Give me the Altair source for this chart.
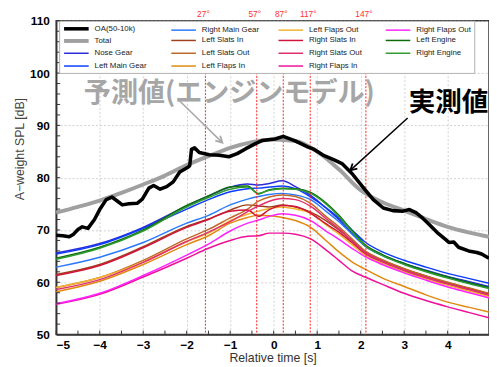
import altair as alt
import pandas as pd

# ---------------- data ----------------
X_GRID = [-5, -4, -3, -2, -1.5, -1, -0.6, -0.35, -0.1, 0.2, 0.5, 0.85, 1.2, 1.5, 1.8, 2.1, 2.5, 3, 3.5, 4, 4.5, 4.95]

nose_gear       = [65.6, 67.4, 70.5, 74.6, 76.5, 78.2, 78.8, 78.6, 78.9, 79.4, 78.3, 76.6, 74.2, 72.0, 69.4, 67.0, 65.2, 63.6, 62.3, 61.1, 60.1, 59.2]
left_main_gear  = [65.4, 67.2, 70.3, 74.0, 75.8, 77.3, 77.9, 78.0, 78.2, 78.4, 77.9, 76.3, 74.3, 72.3, 70.0, 67.7, 65.8, 64.2, 62.9, 61.7, 60.7, 59.8]
right_main_gear = [62.9, 64.8, 67.6, 71.3, 72.8, 74.8, 75.9, 76.4, 76.8, 77.0, 76.7, 75.8, 73.6, 71.6, 69.2, 66.9, 65.1, 63.5, 62.2, 61.0, 59.9, 58.9]
left_engine     = [64.6, 66.7, 70.0, 74.7, 76.5, 78.2, 78.4, 76.9, 77.7, 78.0, 77.9, 77.2, 75.2, 72.8, 69.9, 67.2, 65.3, 63.6, 62.2, 61.0, 59.9, 59.0]
right_engine    = [64.4, 66.5, 69.8, 74.4, 76.2, 77.8, 78.2, 77.0, 77.6, 77.9, 77.8, 77.0, 75.0, 72.6, 69.7, 67.0, 65.1, 63.4, 62.0, 60.8, 59.7, 58.8]
left_slats_in   = [61.5, 63.4, 66.8, 70.7, 72.1, 73.8, 74.8, 74.6, 74.4, 74.8, 74.4, 73.4, 71.8, 70.0, 68.0, 65.9, 64.2, 62.6, 61.2, 59.9, 58.8, 57.8]
right_slats_in  = [61.3, 63.2, 66.6, 70.5, 72.0, 73.6, 73.8, 72.6, 73.9, 74.7, 74.5, 73.2, 71.2, 69.6, 67.6, 65.5, 63.9, 62.3, 60.9, 59.7, 58.6, 57.6]
left_slats_out  = [59.0, 60.9, 64.2, 68.3, 70.1, 72.3, 74.0, 75.5, 76.3, 76.7, 76.4, 75.1, 72.6, 70.6, 68.3, 66.0, 64.3, 62.6, 61.2, 60.0, 58.9, 57.9]
right_slats_out = [58.6, 60.5, 63.8, 67.8, 69.6, 71.6, 73.5, 74.6, 75.5, 76.0, 75.8, 74.5, 72.2, 70.2, 67.9, 65.7, 64.0, 62.3, 60.9, 59.7, 58.6, 57.6]
left_flaps_out  = [59.0, 60.9, 63.9, 67.8, 69.4, 71.8, 73.0, 73.6, 74.1, 74.4, 74.0, 73.2, 71.0, 69.2, 67.2, 65.2, 63.6, 62.0, 60.6, 59.4, 58.3, 57.3]
left_flaps_in   = [58.2, 60.2, 63.4, 67.2, 68.9, 71.3, 72.4, 72.8, 72.7, 72.4, 71.8, 70.5, 68.0, 65.8, 63.9, 62.5, 60.8, 59.2, 57.6, 56.2, 55.2, 54.3]
right_flaps_out = [55.9, 57.9, 61.3, 65.2, 67.3, 69.8, 71.3, 71.9, 72.6, 73.1, 72.8, 71.8, 69.8, 68.2, 66.5, 64.9, 63.4, 61.8, 60.4, 59.1, 58.0, 57.0]
right_flaps_in  = [55.8, 57.7, 61.0, 64.6, 66.5, 68.0, 68.8, 68.9, 69.4, 69.4, 69.2, 68.3, 66.2, 64.2, 62.2, 61.0, 59.6, 57.9, 56.5, 55.3, 54.2, 53.2]

total_x = [-5, -4.5, -4, -3.5, -3, -2.5, -2, -1.5, -1, -0.5, 0, 0.5, 1, 1.5, 2, 2.5, 3, 3.5, 4, 4.5, 4.95]
total_y = [73.3, 74.4, 75.6, 77.1, 78.7, 80.4, 82.4, 84.1, 85.7, 86.8, 87.3, 87.0, 85.0, 81.6, 77.6, 75.3, 73.7, 72.1, 70.6, 69.5, 68.7]

oa_x = [-5.0, -4.85, -4.7, -4.6, -4.5, -4.4, -4.27, -4.12, -4.0, -3.85, -3.72, -3.59, -3.48, -3.33, -3.14, -3.02,
        -2.87, -2.76, -2.61, -2.46, -2.31, -2.16, -1.97, -1.93, -1.89, -1.82, -1.71, -1.48, -1.25, -1.03, -0.84,
        -0.65, -0.42, -0.27, 0.03, 0.22, 0.48, 0.78, 0.93, 1.16, 1.39, 1.57, 1.80, 2.07, 2.29, 2.52, 2.74, 2.97,
        3.12, 3.27, 3.42, 3.57, 3.76, 3.95, 4.03, 4.14, 4.25, 4.48, 4.67, 4.78, 4.95]
oa_y = [69.0, 68.9, 68.7, 69.2, 70.1, 70.6, 70.3, 72.0, 73.9, 75.8, 76.3, 75.5, 74.8, 75.0, 75.1, 75.9,
        78.0, 78.5, 77.8, 78.3, 79.2, 81.1, 82.0, 82.3, 85.4, 85.7, 84.8, 84.4, 84.3, 84.0, 84.6,
        85.5, 86.5, 87.1, 87.4, 87.9, 87.1, 85.9, 85.4, 84.2, 83.4, 82.7, 80.8, 78.0, 75.8, 74.2, 73.7, 73.6,
        73.9, 73.3, 72.3, 71.1, 69.5, 68.2, 67.6, 67.7, 66.7, 66.0, 65.7, 65.4, 64.6]

component_names = ["Nose Gear", "Left Main Gear", "Right Main Gear", "Left Slats In", "Left Slats Out",
                   "Left Flaps In", "Left Flaps Out", "Right Slats In", "Right Slats Out",
                   "Right Flaps In", "Right Flaps Out", "Left Engine", "Right Engine"]
component_values = [nose_gear, left_main_gear, right_main_gear, left_slats_in, left_slats_out,
                    left_flaps_in, left_flaps_out, right_slats_in, right_slats_out,
                    right_flaps_in, right_flaps_out, left_engine, right_engine]

# legend order (column-major, 4 rows)
legend_order = ["OA(50-10k)", "Total", "Nose Gear", "Left Main Gear",
                "Right Main Gear", "Left Slats In", "Left Slats Out", "Left Flaps In",
                "Left Flaps Out", "Right Slats In", "Right Slats Out", "Right Flaps In",
                "Right Flaps Out", "Left Engine", "Right Engine"]
legend_colors = ["#000000", "#a0a0a0", "#2b2bd9", "#0a3cff",
                 "#2a78ff", "#a0401a", "#c0682a", "#e08a10",
                 "#f2b42a", "#d0143c", "#e0306e", "#f0109a",
                 "#ff22ff", "#0b6b0b", "#2f9a2f"]
legend_widths = [3.6, 4.0, 1.5, 1.5,
                 1.5, 1.5, 1.5, 1.5,
                 1.5, 1.5, 1.5, 1.5,
                 1.5, 1.5, 1.5]

angle_x = [-1.57, -0.39, 0.22, 0.84, 2.12]
angle_labels = ["27°", "57°", "87°", "117°", "147°"]

x_tick_pos = [-5, -4.5, -4, -3.5, -3, -2.5, -2, -1.5, -1, -0.5, 0, 0.5, 1, 1.5, 2, 2.5, 3, 3.5, 4, 4.5]
y_tick_pos = [50, 52, 54, 56, 58, 60, 62, 64, 66, 68, 70, 72, 74, 76, 78, 80, 82, 84, 86, 88, 90,
              92, 94, 96, 98, 100, 102, 104, 106, 108, 110]

pred_label = "予測値(エンジンモデル)"
meas_label = "実測値"

# ---------------- tables ----------------
rows = []
for name, vals in zip(component_names, component_values):
    for xv, yv in zip(X_GRID, vals):
        rows.append({"t": xv, "spl": yv, "series": name})
comp_df = pd.DataFrame(rows)
total_df = pd.DataFrame({"t": total_x, "spl": total_y, "series": "Total"})
oa_df = pd.DataFrame({"t": oa_x, "spl": oa_y, "series": "OA(50-10k)"})
angle_df = pd.DataFrame({"t": angle_x, "label": angle_labels})
xt_df = pd.DataFrame({"t": x_tick_pos})
yt_df = pd.DataFrame({"spl": y_tick_pos})

W, H = 440, 319
xs = alt.Scale(domain=[-5, 4.95], nice=False, zero=False)
ys = alt.Scale(domain=[50, 110], nice=False, zero=False)

x_axis = alt.Axis(values=[-5, -4, -3, -2, -1, 0, 1, 2, 3, 4], format="d", grid=True,
                  gridDash=[2, 2], gridColor="#c4c4c4", gridWidth=0.8,
                  ticks=False, tickSize=0, labelPadding=5,
                  labelFont="Liberation Sans", labelFontSize=12, labelFontWeight="bold",
                  labelColor="#000", title="Relative time [s]", titleFont="Liberation Sans",
                  titleFontSize=12.5, titleFontWeight="normal", titleColor="#333", titlePadding=1,
                  domainColor="#333", domainWidth=1.5)
y_axis = alt.Axis(values=[50, 60, 70, 80, 90, 100, 110], grid=True,
                  gridDash=[2, 2], gridColor="#c4c4c4", gridWidth=0.8,
                  ticks=False, tickSize=0, labelPadding=7,
                  labelFont="Liberation Sans", labelFontSize=12, labelFontWeight="bold",
                  labelColor="#000", title="A−weight SPL [dB]", titleFont="Liberation Sans",
                  titleFontSize=12.5, titleFontWeight="normal", titleColor="#444", titlePadding=3,
                  titleY=130, domainColor="#333", domainWidth=1.5)

# long stroke symbol drawn by a custom path with a small nominal size, so rows stay compact
legend = alt.Legend(orient="none", legendX=3, legendY=0, columns=4, title=None,
                    symbolType="M-1,0L9,0", symbolSize=25, symbolStrokeWidth=2,
                    labelFont="Liberation Sans", labelFontSize=8, labelColor="#222",
                    labelOffset=24, labelLimit=200, fillColor="white", strokeColor="#b0b0b0",
                    padding=3, rowPadding=-8, columnPadding=16, gridAlign="all")

color_enc = alt.Color("series:N", scale=alt.Scale(domain=legend_order, range=legend_colors), legend=legend)
width_enc = alt.StrokeWidth("series:N", scale=alt.Scale(type="ordinal", domain=legend_order, range=legend_widths),
                            legend=legend)

x_enc = alt.X("t:Q", scale=xs, axis=x_axis)
y_enc = alt.Y("spl:Q", scale=ys, axis=y_axis)

red_lines = alt.Chart(angle_df).mark_rule(color="#ff2020", strokeDash=[2, 1.5], strokeWidth=1).encode(
    x=alt.X("t:Q", scale=xs), y=alt.value(0), y2=alt.value(H))

red_text = alt.Chart(angle_df).mark_text(color="#ff3030", fontSize=8.5, font="Liberation Sans",
                                         baseline="middle", dx=-2).encode(
    x=alt.X("t:Q", scale=xs), y=alt.value(-7), text="label:N")

comp_lines = alt.Chart(comp_df).mark_line(interpolate="monotone").encode(
    x=x_enc, y=y_enc, color=color_enc, strokeWidth=width_enc)
total_line = alt.Chart(total_df).mark_line(interpolate="monotone").encode(
    x=alt.X("t:Q", scale=xs), y=alt.Y("spl:Q", scale=ys), color=color_enc, strokeWidth=width_enc)
oa_line = alt.Chart(oa_df).mark_line(interpolate="linear", strokeJoin="round").encode(
    x=alt.X("t:Q", scale=xs), y=alt.Y("spl:Q", scale=ys), color=color_enc, strokeWidth=width_enc)

# arrows
arrow_gray = pd.DataFrame({"t": [-2.19], "spl": [94.9], "t2": [-1.18], "spl2": [86.7]})
arrow_black = pd.DataFrame({"t": [3.08], "spl": [91.4], "t2": [1.76], "spl2": [81.4]})
chevron = "M-0.55,1L0,0L0.55,1"

def arrow(df, col, ang):
    shaft = alt.Chart(df).mark_rule(color=col, strokeWidth=1.5).encode(
        x=alt.X("t:Q", scale=xs), y=alt.Y("spl:Q", scale=ys), x2="t2:Q", y2="spl2:Q")
    head = alt.Chart(df).mark_point(shape=chevron, filled=False, color=col, strokeWidth=1.8,
                                    size=170, angle=ang, opacity=1).encode(
        x=alt.X("t2:Q", scale=xs), y=alt.Y("spl2:Q", scale=ys))
    return shaft + head

pred_text = alt.Chart(pd.DataFrame({"t": [-1.02], "spl": [95.9], "txt": [pred_label]})).mark_text(
    font="Noto Sans CJK JP", fontWeight="bold", fontSize=27.5, color="#a6a6a6", baseline="middle").encode(
    x=alt.X("t:Q", scale=xs), y=alt.Y("spl:Q", scale=ys), text="txt:N")
meas_text = alt.Chart(pd.DataFrame({"t": [4.02], "spl": [94.2], "txt": [meas_label]})).mark_text(
    font="Noto Sans CJK JP", fontWeight="bold", fontSize=27, color="#000", baseline="middle").encode(
    x=alt.X("t:Q", scale=xs), y=alt.Y("spl:Q", scale=ys), text="txt:N")

x_ticks = alt.Chart(xt_df).mark_rule(color="#333", strokeWidth=1).encode(
    x=alt.X("t:Q", scale=xs), y=alt.value(H), y2=alt.value(H - 4))
y_ticks = alt.Chart(yt_df).mark_rule(color="#333", strokeWidth=1).encode(
    y=alt.Y("spl:Q", scale=ys), x=alt.value(0), x2=alt.value(4))

chart = alt.layer(
    comp_lines, red_lines, total_line, oa_line,
    arrow(arrow_gray, "#a8a8a8", 134), arrow(arrow_black, "#000", 228),
    pred_text, meas_text, red_text, x_ticks, y_ticks
).properties(
    width=W, height=H,
    autosize=alt.AutoSizeParams(type="none"),
    padding={"left": 49, "top": 10, "right": 0, "bottom": 32},
    background="white"
).configure_view(stroke="#333", strokeWidth=1.5)

chart.save("out.html", embed_options={"renderer": "svg", "actions": False})
